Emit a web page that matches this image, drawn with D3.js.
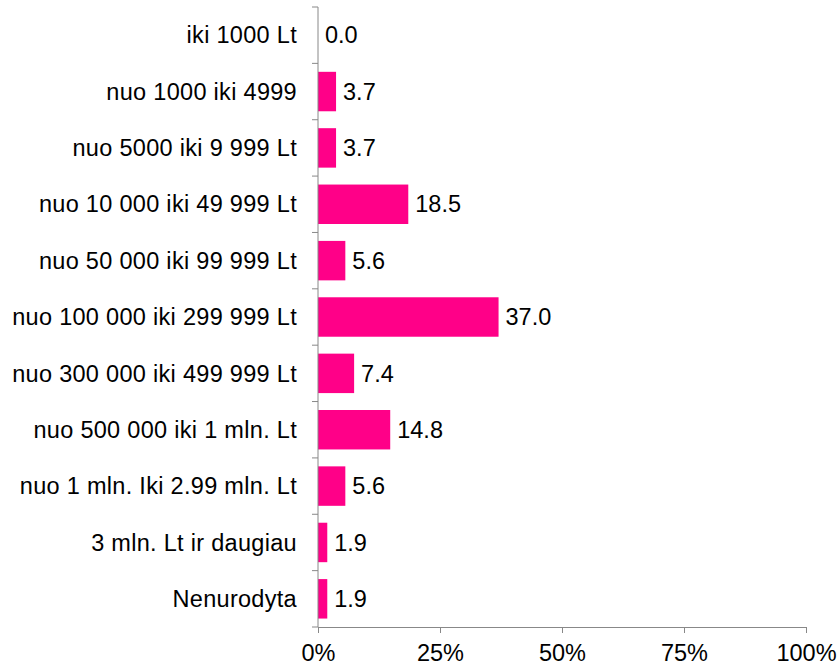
<!DOCTYPE html>
<html>
<head>
<meta charset="utf-8">
<script src="https://cdn.jsdelivr.net/npm/d3@7"></script>
<style>
  body { margin: 0; background: #fff; }
  text { font-family: "Liberation Sans", Arial, sans-serif; }
</style>
</head>
<body>
<div id="chart"></div>
<script>
const categories = [
  'iki 1000 Lt',
  'nuo 1000 iki 4999',
  'nuo 5000 iki 9 999 Lt',
  'nuo 10 000 iki 49 999 Lt',
  'nuo 50 000 iki 99 999 Lt',
  'nuo 100 000 iki 299 999 Lt',
  'nuo 300 000 iki 499 999 Lt',
  'nuo 500 000 iki 1 mln. Lt',
  'nuo 1 mln. Iki 2.99 mln. Lt',
  '3 mln. Lt ir daugiau',
  'Nenurodyta'
]
const values = [0.0, 3.7, 3.7, 18.5, 5.6, 37.0, 7.4, 14.8, 5.6, 1.9, 1.9]
const xTicks = [0, 25, 50, 75, 100]

const width = 837, height = 667
const marginLeft = 318, marginRight = 31, marginTop = 7, marginBottom = 40
const fontSize = 23.5

const svg = d3.select('#chart').append('svg')
    .attr('width', width)
    .attr('height', height)

const chartWidth = width - marginLeft - marginRight
const chartHeight = height - marginTop - marginBottom

const g = svg.append('g')
    .attr('transform', `translate(${marginLeft},${marginTop})`)

const x = d3.scaleLinear().domain([0, 100]).range([0, chartWidth])
const y = d3.scaleBand().domain(categories).range([0, chartHeight]).paddingInner(0.3).paddingOuter(0.15)

const axisColor = '#888'

// bars
g.selectAll('rect')
    .data(values)
    .join('rect')
    .attr('x', 0)
    .attr('y', (d, i) => y(categories[i]))
    .attr('width', d => x(d))
    .attr('height', y.bandwidth())
    .attr('fill', '#ff0088')

// value labels
g.selectAll('.val')
    .data(values)
    .join('text')
    .attr('class', 'val')
    .attr('x', d => x(d) + 7)
    .attr('y', (d, i) => y(categories[i]) + y.bandwidth() / 2)
    .attr('dy', '0.35em')
    .attr('font-size', fontSize)
    .attr('fill', '#000')
    .text(d => d.toFixed(1))

// y axis: line with ticks between categories
const step = chartHeight / categories.length
g.append('line')
    .attr('x1', 0).attr('x2', 0)
    .attr('y1', 0).attr('y2', chartHeight)
    .attr('stroke', axisColor)
g.selectAll('.ytick')
    .data(d3.range(categories.length + 1))
    .join('line')
    .attr('class', 'ytick')
    .attr('x1', -6).attr('x2', 0)
    .attr('y1', d => d * step).attr('y2', d => d * step)
    .attr('stroke', axisColor)

g.selectAll('.ylab')
    .data(categories)
    .join('text')
    .attr('class', 'ylab')
    .attr('x', -21)
    .attr('y', d => y(d) + y.bandwidth() / 2)
    .attr('dy', '0.35em')
    .attr('text-anchor', 'end')
    .attr('font-size', fontSize)
    .attr('letter-spacing', 0.3)
    .attr('fill', '#000')
    .text(d => d)

// x axis
const xAxis = g.append('g')
    .attr('transform', `translate(0,${chartHeight})`)
    .call(d3.axisBottom(x).tickValues(xTicks).tickSize(6).tickPadding(11).tickFormat(d => d + '%'))
xAxis.select('.domain').attr('stroke', axisColor)
xAxis.selectAll('.tick line').attr('stroke', axisColor)
xAxis.selectAll('.tick text')
    .attr('font-size', fontSize)
    .attr('font-family', '"Liberation Sans", Arial, sans-serif')
    .attr('fill', '#000')
</script>
</body>
</html>
